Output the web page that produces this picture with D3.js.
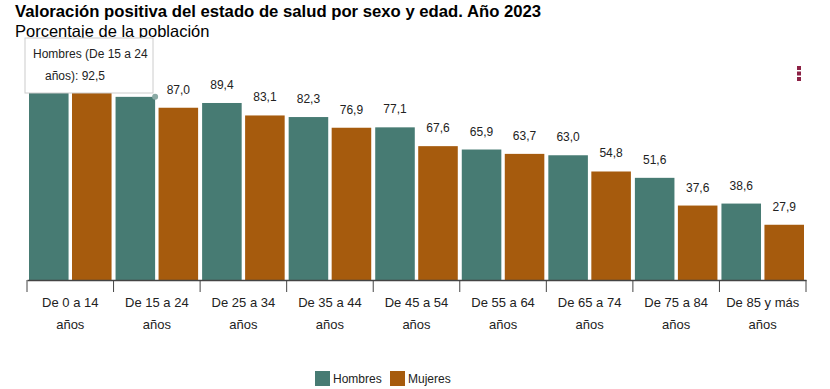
<!DOCTYPE html>
<html>
<head>
<meta charset="utf-8">
<script src="https://cdn.jsdelivr.net/npm/d3@7"></script>
<style>
  body { margin: 0; background: #fff; font-family: "Liberation Sans", Arial, sans-serif; }
  svg { display: block; }
</style>
</head>
<body>
<div class="chart"></div>
<script>
var categorias = ['De 0 a 14 años', 'De 15 a 24 años', 'De 25 a 34 años', 'De 35 a 44 años',
  'De 45 a 54 años', 'De 55 a 64 años', 'De 65 a 74 años', 'De 75 a 84 años', 'De 85 y más años'];
var hombres = [95.8, 92.5, 89.4, 82.3, 77.1, 65.9, 63.0, 51.6, 38.6];
var mujeres = [95.6, 87.0, 83.1, 76.9, 67.6, 63.7, 54.8, 37.6, 27.9];
var series = ['Hombres', 'Mujeres'];
var colores = ['#477b73', '#a65b0d'];

var w = 830, h = 389;
var svg = d3.select('.chart').append('svg')
  .attr('width', w)
  .attr('height', h);

// titulo
svg.append('text')
  .attr('x', 15).attr('y', 17)
  .style('font-size', '16.7px').style('font-weight', 'bold')
  .text('Valoración positiva del estado de salud por sexo y edad. Año 2023');
svg.append('text')
  .attr('x', 15).attr('y', 37)
  .style('font-size', '16.5px')
  .text('Porcentaje de la población');

var x = d3.scaleBand().domain(categorias).range([27, 806]).paddingInner(0).paddingOuter(0);
var xs = d3.scaleBand().domain(series).range([2, x.bandwidth() - 2]).paddingInner(0.08);
var y = d3.scaleLinear().domain([0, 100]).range([280, 82]);

var datos = categorias.map(function(c, i){
  return { cat: c, idx: i, valores: [
    { s: 'Hombres', v: hombres[i] },
    { s: 'Mujeres', v: mujeres[i] }
  ]};
});

var grupos = svg.selectAll('g.grupo')
  .data(datos)
  .enter()
  .append('g')
  .attr('class', 'grupo')
  .attr('transform', function(d){ return 'translate(' + x(d.cat) + ',0)'; });

grupos.selectAll('rect')
  .data(function(d){ return d.valores; })
  .enter()
  .append('rect')
  .attr('x', function(d){ return xs(d.s); })
  .attr('y', function(d){ return y(d.v); })
  .attr('width', xs.bandwidth())
  .attr('height', function(d){ return y(0) - y(d.v); })
  .style('fill', function(d, i){ return colores[i]; });

// las etiquetas del primer grupo quedan tapadas por el tooltip
grupos.filter(function(d){ return d.idx > 0; })
  .selectAll('text.valor')
  .data(function(d){ return d.valores; })
  .enter()
  .append('text')
  .attr('class', 'valor')
  .attr('x', function(d){ return xs(d.s) + xs.bandwidth() / 2; })
  .attr('y', function(d){ return y(d.v) - 14; })
  .attr('text-anchor', 'middle')
  .style('font-size', '12px')
  .style('fill', '#222')
  .text(function(d){ return d.v.toFixed(1).replace('.', ','); });

// eje x
var eje = svg.append('g')
  .attr('transform', 'translate(0,' + y(0) + ')')
  .call(d3.axisBottom(x).tickSize(0).tickFormat(''));
eje.select('.domain').attr('stroke', '#444').attr('stroke-width', 1.5);
var bordes = d3.range(categorias.length + 1).map(function(i){ return 27 + i * x.bandwidth(); });
eje.selectAll('line.borde')
  .data(bordes)
  .enter()
  .append('line')
  .attr('class', 'borde')
  .attr('x1', function(d){ return d; })
  .attr('x2', function(d){ return d; })
  .attr('y1', 0).attr('y2', 12)
  .attr('stroke', '#444');

var etiquetas = svg.selectAll('text.cat')
  .data(categorias)
  .enter()
  .append('text')
  .attr('class', 'cat')
  .attr('text-anchor', 'middle')
  .style('font-size', '13px')
  .style('fill', '#222');
etiquetas.each(function(c){
  var partes = c.replace(' años', '').trim();
  var t = d3.select(this);
  t.append('tspan').attr('x', x(c) + x.bandwidth() / 2).attr('y', 307).text(partes);
  t.append('tspan').attr('x', x(c) + x.bandwidth() / 2).attr('y', 329).text('años');
});

// leyenda
var leyenda = svg.selectAll('g.ley')
  .data(series)
  .enter()
  .append('g')
  .attr('class', 'ley')
  .attr('transform', function(d, i){ return 'translate(' + (315 + i * 75) + ',371)'; });
leyenda.append('rect')
  .attr('width', 15).attr('height', 15)
  .style('fill', function(d, i){ return colores[i]; });
leyenda.append('text')
  .attr('x', 18).attr('y', 12)
  .style('font-size', '12px')
  .style('fill', '#222')
  .text(function(d){ return d; });

// menu
svg.selectAll('rect.menu')
  .data([0, 1, 2])
  .enter()
  .append('rect')
  .attr('class', 'menu')
  .attr('x', 797).attr('y', function(d){ return 66 + d * 5.5; })
  .attr('width', 4).attr('height', 4)
  .style('fill', '#8c2145');

// tooltip
svg.append('circle')
  .attr('cx', x(categorias[1]) + xs('Hombres') + xs.bandwidth())
  .attr('cy', y(hombres[1]))
  .attr('r', 3)
  .style('fill', '#8aa9a4');
var tip = svg.append('g').attr('transform', 'translate(25,38)');
tip.append('rect')
  .attr('width', 128).attr('height', 55)
  .style('fill', '#fff')
  .style('stroke', '#ccc');
tip.append('text')
  .attr('x', 8).attr('y', 20)
  .style('font-size', '12px').style('fill', '#222')
  .text('Hombres (' + categorias[1].replace(' años', '') + '');
tip.append('text')
  .attr('x', 20).attr('y', 42)
  .style('font-size', '12px').style('fill', '#222')
  .text('años): ' + hombres[1].toFixed(1).replace('.', ','));
</script>
</body>
</html>
